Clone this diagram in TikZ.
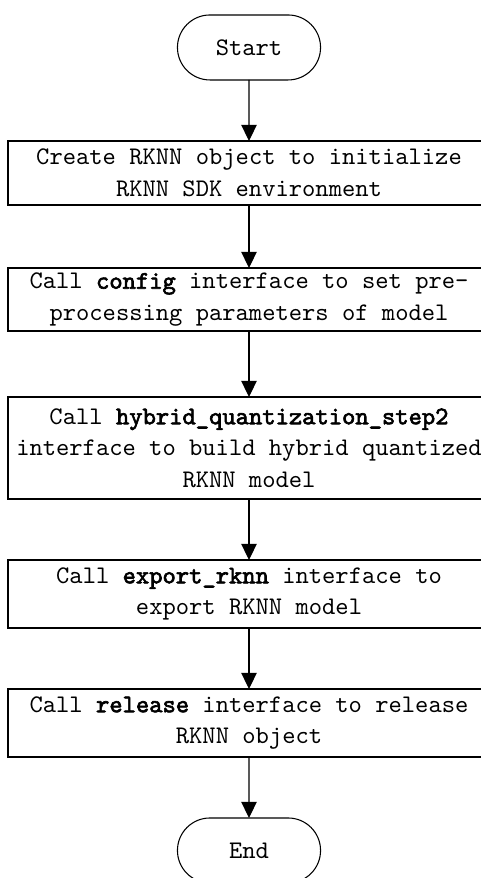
\documentclass[tikz,border=0pt]{standalone}
\usepackage{fontspec}
\usetikzlibrary{arrows.meta,positioning,shapes.misc}
\newfontfamily\flowfont{lmmono10-regular.otf}
\newfontfamily\flowbold{lmmono10-regular.otf}[FakeBold=2.5]
\newcommand{\apiname}[1]{{\flowbold #1}}

\begin{document}
\begin{tikzpicture}[node distance=45.75pt, outer sep=0pt,
    terminal/.style={draw, rounded rectangle, minimum width=114pt, minimum height=48.75pt, line width=0.8pt, font=\flowfont\fontsize{19}{23.6}\selectfont},
    process/.style={draw, rectangle, minimum width=361.5pt, minimum height=48pt, inner sep=2pt, align=center, line width=0.9pt, font=\flowfont\fontsize{19}{23.6}\selectfont},
    flow/.style={-{Triangle[length=12pt,width=11.5pt]}, line width=0.9pt}]
      \clip (0pt,0pt) rectangle (360.75pt,-658.5pt);

      \node[terminal] (start) at (186.75pt,-35.6pt) {Start};
      \node[process, below=of start] (create) {Create RKNN object to initialize\\RKNN SDK environment};
      \node[process, below=47.25pt of create, minimum height=47.25pt] (config) {Call \apiname{config} interface to set pre-\\processing parameters of model};
      \node[process, below=49.5pt of config, minimum height=76.5pt] (hybrid) {Call \apiname{hybrid\_quantization\_step2}\\interface to build hybrid quantized\\RKNN model};
      \node[process, below=of hybrid, minimum height=51pt] (export) {Call \apiname{export\_rknn} interface to\\export RKNN model};
      \node[process, below=of export, minimum height=51pt] (release) {Call \apiname{release} interface to release\\RKNN object};
      \node[terminal, below=of release] (end) {End};

      \draw[flow] (start) to (create);
      \draw[flow] (create) to (config);
      \draw[flow] (config) to (hybrid);
      \draw[flow] (hybrid) to (export);
      \draw[flow] (export) to (release);
      \draw[flow] (release) to (end);
    \end{tikzpicture}
\end{document}
